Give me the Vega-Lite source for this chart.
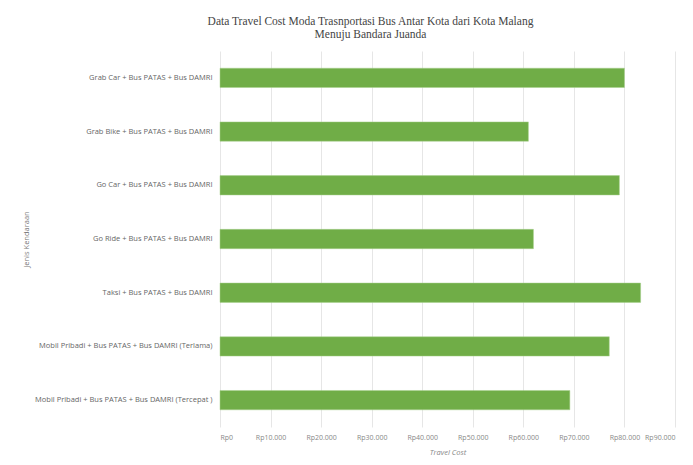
{
  "$schema": "https://vega.github.io/schema/vega-lite/v6.json",
  "autosize": "none",
  "width": 455,
  "height": 376,
  "padding": {"left": 220, "top": 51, "right": 18, "bottom": 38},
  "background": "white",
  "config": {"view": {"stroke": null}},
  "title": {
    "text": ["Data Travel Cost Moda Trasnportasi Bus Antar Kota dari Kota Malang", "Menuju Bandara Juanda"],
    "font": "Liberation Serif",
    "fontSize": 11.5,
    "fontWeight": "normal",
    "color": "#444444",
    "anchor": "middle",
    "frame": "group",
    "offset": 11,
    "lineHeight": 12.5,
    "dx": -77
  },
  "data": {
    "values": [
      {"jenis": "Grab Car + Bus PATAS + Bus DAMRI", "cost": 80000},
      {"jenis": "Grab Bike + Bus PATAS + Bus DAMRI", "cost": 61000},
      {"jenis": "Go Car + Bus PATAS + Bus DAMRI", "cost": 79000},
      {"jenis": "Go Ride + Bus PATAS + Bus DAMRI", "cost": 62000},
      {"jenis": "Taksi + Bus PATAS + Bus DAMRI", "cost": 83200},
      {"jenis": "Mobil  Pribadi + Bus PATAS + Bus DAMRI (Terlama)", "cost": 77000},
      {"jenis": "Mobil  Pribadi + Bus PATAS + Bus DAMRI (Tercepat )", "cost": 69200}
    ]
  },
  "mark": {"type": "bar", "color": "#70ad47", "stroke": "#a9d18e", "strokeWidth": 0.5},
  "encoding": {
    "y": {
      "field": "jenis",
      "type": "nominal",
      "sort": null,
      "scale": {"paddingInner": 0.64, "paddingOuter": 0.32},
      "axis": {
        "title": "Jenis Kendaraan",
        "titleFont": "Open Sans",
        "titleFontSize": 7.5,
        "titleFontWeight": "normal",
        "titleColor": "#777777",
        "titlePadding": 2,
        "labelFont": "Open Sans",
        "labelFontSize": 7.5,
        "labelColor": "#666666",
        "labelPadding": 8,
        "labelLimit": 300,
        "ticks": false,
        "domain": false
      }
    },
    "x": {
      "field": "cost",
      "type": "quantitative",
      "scale": {"domain": [0, 90000], "nice": false},
      "axis": {
        "values": [0, 10000, 20000, 30000, 40000, 50000, 60000, 70000, 80000, 90000],
        "labelExpr": "'Rp' + replace(format(datum.value, ','), ',', '.')",
        "title": "Travel Cost",
        "titleFont": "Open Sans",
        "titleFontSize": 7.5,
        "titleFontStyle": "italic",
        "titleFontWeight": "normal",
        "titleColor": "#888888",
        "titlePadding": 8,
        "labelFont": "Open Sans",
        "labelFontSize": 7,
        "labelColor": "#888888",
        "labelPadding": 6,
        "grid": true,
        "gridColor": "#e6e6e6",
        "gridWidth": 1,
        "ticks": false,
        "domain": false
      }
    }
  }
}
